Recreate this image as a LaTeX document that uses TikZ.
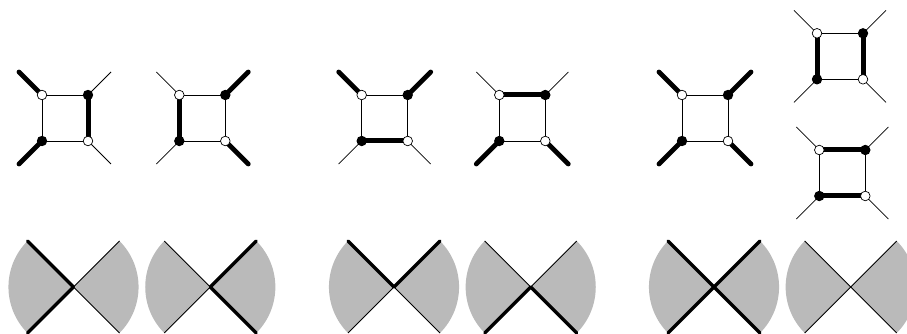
\documentclass[tikz,border=0pt]{standalone}
\usepackage{xcolor}
\usetikzlibrary{calc, backgrounds}
\definecolor{sectorgray}{HTML}{BABABA}

\begin{document}
\begin{tikzpicture}[x=1pt, y=1pt,
    vertexWhite/.style={circle, draw=black, line width=0.7pt, fill=white, inner sep=0pt, minimum size=9.6pt},
    vertexBlack/.style={circle, fill=black, inner sep=0pt, minimum size=10.4pt},
    thinLine/.style={line width=0.75pt},
    thickLeg/.style={line width=4.8pt, line cap=round},
    thickEdge/.style={line width=5pt},
    bowThin/.style={line width=0.9pt},
    bowThick/.style={line width=3.3pt, line cap=round}]
  \useasboundingbox (0,0) rectangle (907,334);
  % boxes: legs tl/tr/bl/br, then edges top/right/bottom/left
  \foreach \name/\cx/\cy/\la/\lb/\lc/\ld/\ea/\eb/\ec/\ed in {
      boxA/65/216/thickLeg/thinLine/thickLeg/thinLine/thinLine/thickEdge/thinLine/thinLine,
      boxB/202.3/216/thinLine/thickLeg/thinLine/thickLeg/thinLine/thinLine/thinLine/thickEdge,
      boxC/384.7/216/thickLeg/thickLeg/thinLine/thinLine/thinLine/thinLine/thickEdge/thinLine,
      boxD/522.3/216/thinLine/thinLine/thickLeg/thickLeg/thickEdge/thinLine/thinLine/thinLine,
      boxE/705/216/thickLeg/thickLeg/thickLeg/thickLeg/thinLine/thinLine/thinLine/thinLine,
      boxF/840/277.7/thinLine/thinLine/thinLine/thinLine/thinLine/thickEdge/thinLine/thickEdge,
      boxG/842.3/161/thinLine/thinLine/thinLine/thinLine/thickEdge/thinLine/thickEdge/thinLine} {
    \node[vertexWhite] (\name-tl) at (\cx-23,\cy+23) {};
    \node[vertexBlack] (\name-tr) at (\cx+23,\cy+23) {};
    \node[vertexBlack] (\name-bl) at (\cx-23,\cy-23) {};
    \node[vertexWhite] (\name-br) at (\cx+23,\cy-23) {};
    \coordinate (\name-otl) at (\cx-46,\cy+46);
    \coordinate (\name-otr) at (\cx+46,\cy+46);
    \coordinate (\name-obl) at (\cx-46,\cy-46);
    \coordinate (\name-obr) at (\cx+46,\cy-46);
    \begin{pgfonlayer}{background}
      \draw[\la] (\name-otl) -- (\name-tl.center);
      \draw[\lb] (\name-otr) -- (\name-tr.center);
      \draw[\lc] (\name-obl) -- (\name-bl.center);
      \draw[\ld] (\name-obr) -- (\name-br.center);
      \draw[\ea] (\name-tl.center) -- (\name-tr.center);
      \draw[\eb] (\name-tr.center) -- (\name-br.center);
      \draw[\ec] (\name-bl.center) -- (\name-br.center);
      \draw[\ed] (\name-tl.center) -- (\name-bl.center);
    \end{pgfonlayer}
  }
  % bow ties: sectors with legs tl/tr/bl/br
  \foreach \name/\cx/\la/\lb/\lc/\ld in {
      bowA/73.5/bowThick/bowThin/bowThick/bowThin,
      bowB/210.3/bowThin/bowThick/bowThin/bowThick,
      bowC/394/bowThick/bowThick/bowThin/bowThin,
      bowD/530.7/bowThin/bowThin/bowThick/bowThick,
      bowE/714/bowThick/bowThick/bowThick/bowThick,
      bowF/850.7/bowThin/bowThin/bowThin/bowThin} {
    \coordinate (\name) at (\cx,47);
    \coordinate (\name-tl) at (\cx-46,93);
    \coordinate (\name-tr) at (\cx+46,93);
    \coordinate (\name-bl) at (\cx-46,1);
    \coordinate (\name-br) at (\cx+46,1);
    \fill[sectorgray] (\name) -- (\name-tr) arc[start angle=45, end angle=-45, radius=65.05pt] -- cycle;
    \fill[sectorgray] (\name) -- (\name-bl) arc[start angle=225, end angle=135, radius=65.05pt] -- cycle;
    \draw[\la] (\name-tl) -- (\name);
    \draw[\lb] (\name-tr) -- (\name);
    \draw[\lc] (\name-bl) -- (\name);
    \draw[\ld] (\name-br) -- (\name);
  }
\end{tikzpicture}
\end{document}
